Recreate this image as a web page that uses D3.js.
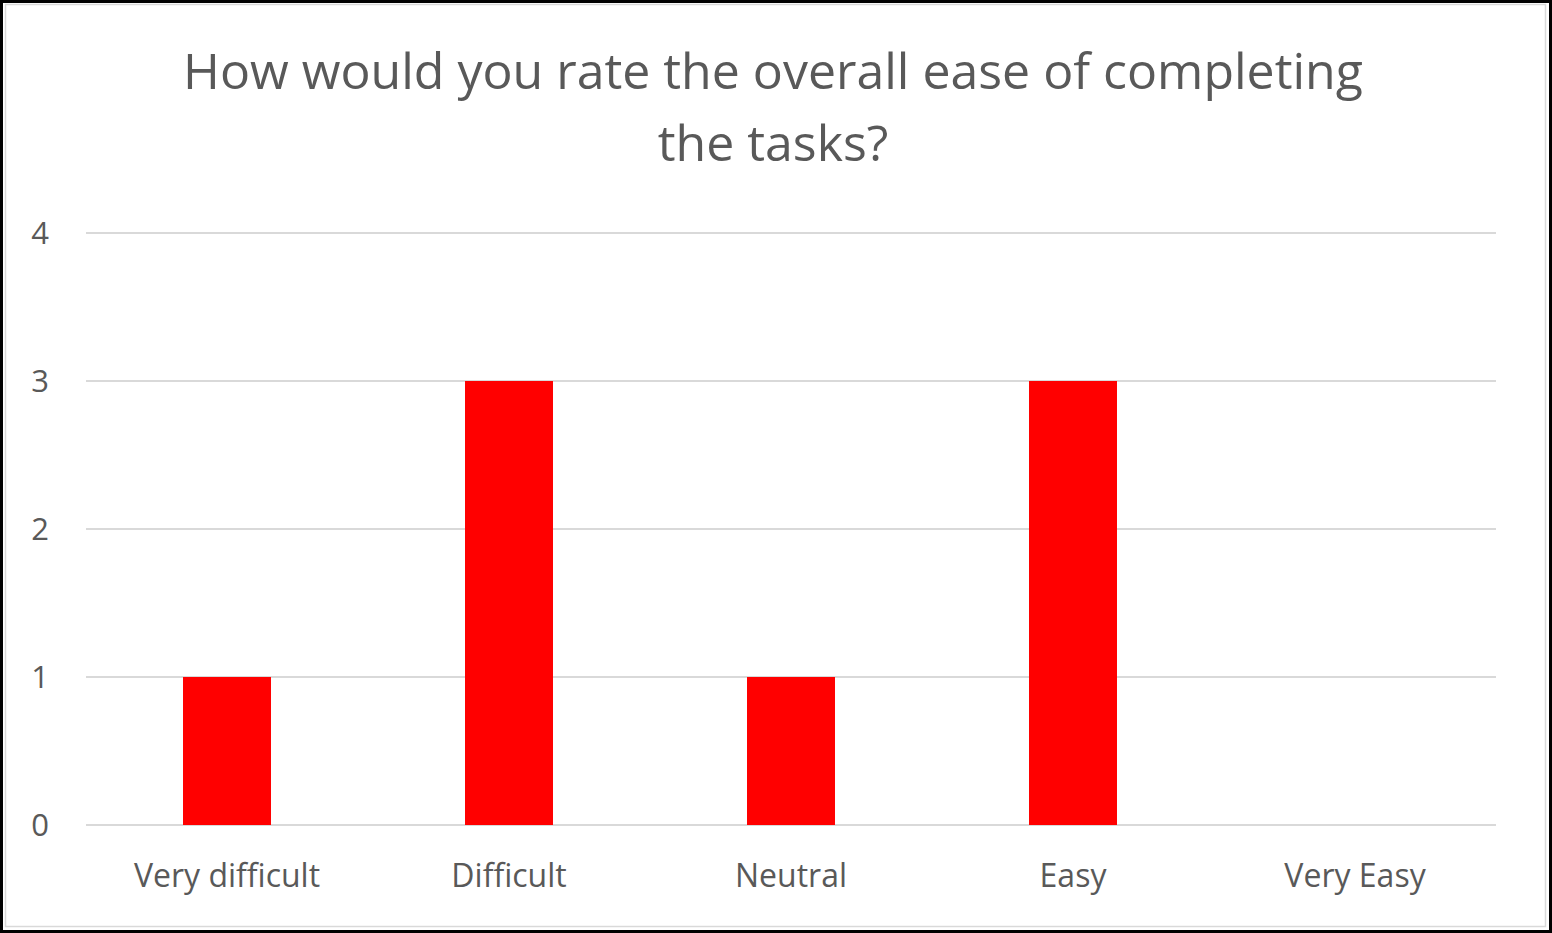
<!DOCTYPE html>
<html>
<head>
<meta charset="utf-8">
<script src="https://cdn.jsdelivr.net/npm/d3@7"></script>
<style>
  body { margin: 0; background: #fff; }
  svg { display: block; }
</style>
</head>
<body>
<div id="chart-area"></div>
<script>
// chart data
var categories = ["Very difficult", "Difficult", "Neutral", "Easy", "Very Easy"];
var counts = [1, 3, 1, 3, 0];
var yTicks = [0, 1, 2, 3, 4];
var titleLines = ["How would you rate the overall ease of completing", "the tasks?"];

var W = 1552, H = 933;
var margin = {left:86, right:56, top:233, bottom:108};

var svg = d3.select("#chart-area")
	.append("svg")
		.attr("width", W)
		.attr("height", H);

// outer frame
svg.append("rect")
	.attr("x", 1.5).attr("y", 1.5)
	.attr("width", W - 3).attr("height", H - 3)
	.attr("fill", "#fff")
	.attr("stroke", "#000")
	.attr("stroke-width", 3);
svg.append("rect")
	.attr("x", 5.5).attr("y", 4.5)
	.attr("width", W - 12).attr("height", H - 11)
	.attr("fill", "none")
	.attr("stroke", "#d9d9d9")
	.attr("stroke-width", 1.5);

var x = d3.scaleBand()
	.domain(categories)
	.range([margin.left, W - margin.right])
	.paddingInner(0.688)
	.paddingOuter(0.344);

var y = d3.scaleLinear()
	.domain([0, 4])
	.range([H - margin.bottom, margin.top]);

var font = "'Open Sans', sans-serif";

// gridlines
svg.append("g")
	.selectAll("line")
	.data(yTicks)
	.enter().append("line")
		.attr("x1", margin.left)
		.attr("x2", W - margin.right)
		.attr("y1", function(d){ return y(d); })
		.attr("y2", function(d){ return y(d); })
		.attr("stroke", "#d9d9d9")
		.attr("stroke-width", 2);

// y labels
svg.append("g")
	.selectAll("text")
	.data(yTicks)
	.enter().append("text")
		.attr("x", 40)
		.attr("y", function(d){ return y(d); })
		.attr("dy", "0.35em")
		.attr("text-anchor", "middle")
		.attr("font-family", font)
		.attr("font-size", "31px")
		.attr("fill", "#595959")
		.text(function(d){ return d; });

// bars
svg.append("g")
	.selectAll("rect")
	.data(counts)
	.enter().append("rect")
		.attr("x", function(d, i){ return x(categories[i]); })
		.attr("width", x.bandwidth())
		.attr("y", function(d){ return y(d); })
		.attr("height", function(d){ return y(0) - y(d); })
		.attr("fill", "#ff0000");

// x labels
svg.append("g")
	.selectAll("text")
	.data(categories)
	.enter().append("text")
		.attr("x", function(d){ return x(d) + x.bandwidth() / 2; })
		.attr("y", 887)
		.attr("text-anchor", "middle")
		.attr("font-family", font)
		.attr("font-size", "32px")
		.attr("fill", "#595959")
		.text(function(d){ return d; });

// title
svg.append("g")
	.selectAll("text")
	.data(titleLines)
	.enter().append("text")
		.attr("x", 773)
		.attr("y", function(d, i){ return 89 + i * 72; })
		.attr("text-anchor", "middle")
		.attr("font-family", font)
		.attr("font-size", "50px")
		.attr("fill", "#595959")
		.text(function(d){ return d; });
</script>
</body>
</html>
